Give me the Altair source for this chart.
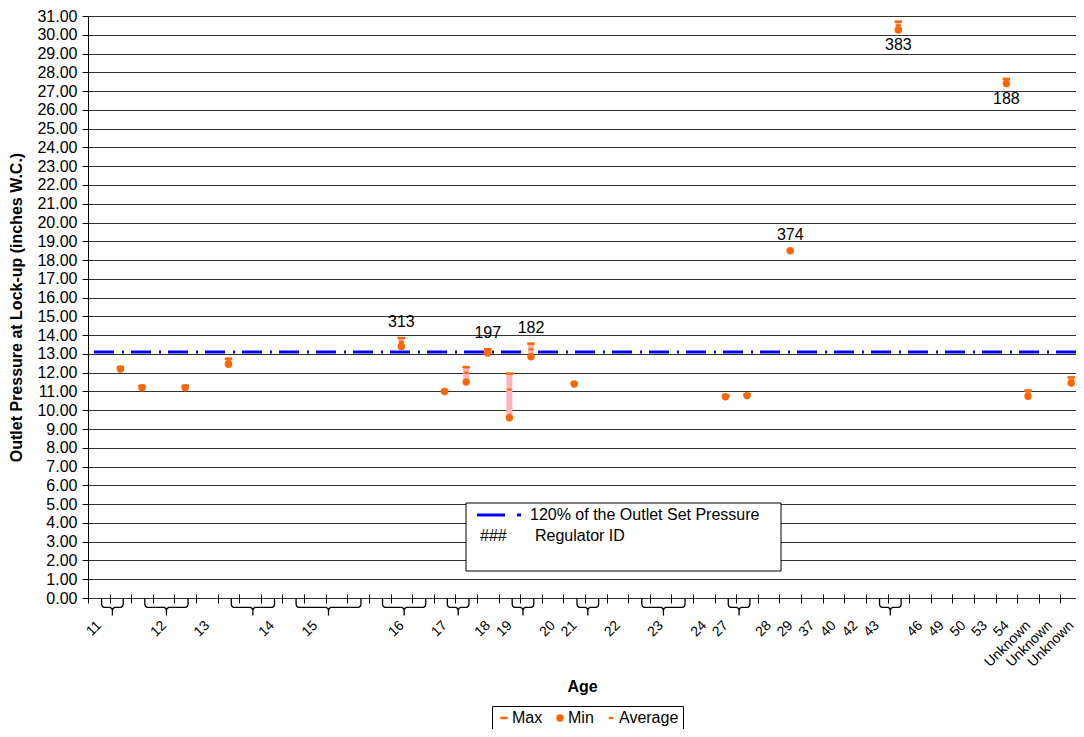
import json
import altair as alt
import pandas as pd

# ---------------- data ----------------
age_labels = ["11", "", "", "12", "", "13", "", "", "14", "", "15", "", "", "",
              "16", "", "17", "", "18", "19", "", "20", "21", "", "22", "", "23",
              "", "24", "27", "", "28", "29", "37", "40", "42", "43", "", "46",
              "49", "50", "53", "54", "Unknown", "Unknown", "Unknown"]

cat_idx = [1, 2, 4, 6, 14, 16, 17, 18, 19, 20, 22, 29, 30, 32, 37, 42, 43, 45]
max_vals = [12.30, 11.30, 11.30, 12.75, 13.85, 11.00, 12.30, 13.25, 11.95, 13.55,
            11.45, 10.80, 10.85, 18.50, 30.70, 27.65, 11.05, 11.75]
min_vals = [12.20, 11.20, 11.20, 12.45, 13.40, 11.00, 11.50, 13.05, 9.60, 12.85,
            11.40, 10.72, 10.78, 18.50, 30.25, 27.40, 10.75, 11.45]
avg_vals = [12.25, 11.25, 11.25, 12.60, 13.65, 11.00, 12.00, 13.15, 11.10, 13.25,
            11.42, 10.76, 10.82, 18.50, 30.50, 27.55, 10.90, 11.60]

reg_ids = ["313", "197", "182", "374", "383", "188"]
reg_cats = [14, 18, 20, 32, 37, 42]
reg_side = ["above", "above", "above", "above", "below", "below"]

ref_pressure = 13.1
ref_label = "120% of the Outlet Set Pressure"

# groups of categories sharing one age (start index, end index)
brace_groups = [(0, 1), (2, 4), (6, 8), (9, 12), (13, 15), (16, 17), (19, 20),
                (22, 23), (25, 27), (29, 30), (36, 37)]

series_names = ["Max", "Min", "Average"]
y_ticks = list(range(0, 32))

# ---------------- styling ----------------
N = len(age_labels)
ORANGE = "#FF6600"
PINK = "#FFB5B5"
BLUE = "#0000FF"
FONT = "Liberation Sans"
Y_TITLE = "Outlet Pressure at Lock-up (inches W.C.)"
VIEW_W, VIEW_H = 988, 582
X_RANGE = [0, 994]   # the category axis runs slightly past the right edge, as in the original

df = pd.DataFrame({"cat": cat_idx, "max": max_vals, "min": min_vals, "avg": avg_vals})
n = len(cat_idx)
long = pd.DataFrame({
    "cat": cat_idx * 3,
    "series": ["Max"] * n + ["Average"] * n + ["Min"] * n,
    "value": max_vals + avg_vals + min_vals,
})

lut = {c: (mx, mn) for c, mx, mn in zip(cat_idx, max_vals, min_vals)}
lab = pd.DataFrame({
    "cat": reg_cats,
    "id": reg_ids,
    "side": reg_side,
    "max": [lut[c][0] for c in reg_cats],
    "min": [lut[c][1] for c in reg_cats],
})

# brace outlines drawn in category units on an independent linear x scale
rows = []
for g, (s, e) in enumerate(brace_groups):
    sh = 0.13
    x0, x1 = s + 0.5 + sh, e + 0.5 + sh
    m = (x0 + x1) / 2
    pts = [(x0, -0.02), (x0, -0.34), (x0 + 0.03, -0.44), (x0 + 0.1, -0.5),
           (m - 0.1, -0.5), (m - 0.03, -0.56), (m, -0.66), (m, -0.93),
           (m, -0.66), (m + 0.03, -0.56), (m + 0.1, -0.5), (x1 - 0.1, -0.5),
           (x1 - 0.03, -0.44), (x1, -0.34), (x1, -0.02)]
    for o, (bx, by) in enumerate(pts):
        rows.append({"g": g, "o": o, "bx": bx, "by": by})
bdf = pd.DataFrame(rows)

x_scale = alt.Scale(domain=list(range(N)), paddingInner=0, paddingOuter=0, range=X_RANGE)
x_axis = alt.Axis(
    title="Age", labelExpr=json.dumps(age_labels) + "[datum.value]",
    labelAngle=-45, labelAlign="right", labelBaseline="middle", labelPadding=20,
    labelOverlap=False, labelFontSize=14, labelColor="black",
    labelFont=FONT, tickBand="extent", tickSize=9, tickColor="black",
    tickWidth=1, offset=-4, domain=False, grid=False, titleFontSize=16,
    titleFontWeight="bold", titleFont=FONT, titleColor="black",
    titleX=VIEW_W / 2, titleY=84, titleBaseline="top",
)
y_scale = alt.Scale(domain=[0, 31], nice=False, zero=False)
y_axis = alt.Axis(
    title=Y_TITLE, values=y_ticks, format=".2f", labelFontSize=16,
    labelColor="black", labelFont=FONT, labelPadding=5, labelOverlap=False,
    tickSize=6, tickColor="black", domainColor="black", domainWidth=1,
    grid=True, gridColor="#333333", gridWidth=1, titleFontSize=16,
    titleFontWeight="bold", titleFont=FONT, titleColor="black",
    titleX=-64, titleBaseline="bottom",
)


def X():
    return alt.X("cat:O", scale=x_scale, axis=x_axis)


def Y(f):
    return alt.Y(f, type="quantitative", scale=y_scale, axis=y_axis)


ref = alt.Chart(pd.DataFrame({"v": [ref_pressure]})).mark_rule(
    color=BLUE, strokeWidth=3, strokeDash=[20, 7, 2, 8]
).encode(y=Y("v"))

bars = alt.Chart(df).mark_bar(size=6, color=PINK).encode(
    x=X(), y=Y("min"), y2="max"
)

max_path = "M-1,-0.34H1V0.34H-1Z"
avg_path = "M-0.6,-0.3H0.6V0.3H-0.6Z"
points = alt.Chart(long).mark_point(filled=True, opacity=1, size=55, color=ORANGE).encode(
    x=X(), y=Y("value"),
    shape=alt.Shape(
        "series:N",
        scale=alt.Scale(domain=series_names, range=[max_path, "circle", avg_path]),
        legend=alt.Legend(
            title=None, orient="none", legendX=404, legendY=690,
            direction="horizontal", strokeColor="black", fillColor="white",
            padding=4, labelFontSize=16, labelFont=FONT, labelColor="black",
            symbolSize=55, symbolFillColor=ORANGE, symbolStrokeColor=ORANGE,
            symbolStrokeWidth=0, columnPadding=9, labelOffset=0,
        ),
    ),
)

lab_above = alt.Chart(lab).transform_filter(alt.datum.side == "above").mark_text(
    baseline="bottom", dy=-8, fontSize=16, font=FONT, color="black"
).encode(x=X(), y=Y("max"), text="id:N")
lab_below = alt.Chart(lab).transform_filter(alt.datum.side == "below").mark_text(
    baseline="top", dy=7, fontSize=16, font=FONT, color="black"
).encode(x=X(), y=Y("min"), text="id:N")

one = pd.DataFrame({"a": [0]})
box = alt.Chart(one).mark_rect(fill="white", stroke="black", strokeWidth=1).encode(
    x=alt.value(378), x2=alt.value(693), y=alt.value(487), y2=alt.value(555)
)
sample = alt.Chart(one).mark_rule(color=BLUE, strokeWidth=3, strokeDash=[28, 12, 4, 30]).encode(
    x=alt.value(389), x2=alt.value(433), y=alt.value(499)
)
t1 = alt.Chart(one).mark_text(align="left", baseline="middle", fontSize=16, font=FONT, color="black").encode(
    x=alt.value(442), y=alt.value(499), text=alt.value(ref_label)
)
t2 = alt.Chart(one).mark_text(align="left", baseline="middle", fontSize=16, font=FONT, color="black").encode(
    x=alt.value(392), y=alt.value(520), text=alt.value("###")
)
t3 = alt.Chart(one).mark_text(align="left", baseline="middle", fontSize=16, font=FONT, color="black").encode(
    x=alt.value(447), y=alt.value(520), text=alt.value("Regulator ID")
)

inner = alt.layer(ref, bars, points, lab_above, lab_below, box, sample, t1, t2, t3)

braces = alt.Chart(bdf).mark_line(color="black", strokeWidth=1.3).encode(
    x=alt.X("bx:Q", scale=alt.Scale(domain=[0, N], nice=False, zero=False, range=X_RANGE), axis=None),
    y=Y("by"),
    detail="g:N",
    order="o:Q",
)

chart = alt.layer(inner, braces).resolve_scale(x="independent").properties(
    width=VIEW_W, height=VIEW_H,
    padding={"left": 80, "top": 8, "right": 0, "bottom": 131},
    autosize=alt.AutoSizeParams(type="none"),
).configure_view(stroke=None).configure(font=FONT)

chart.save("out.html", embed_options={"renderer": "svg", "actions": False})
